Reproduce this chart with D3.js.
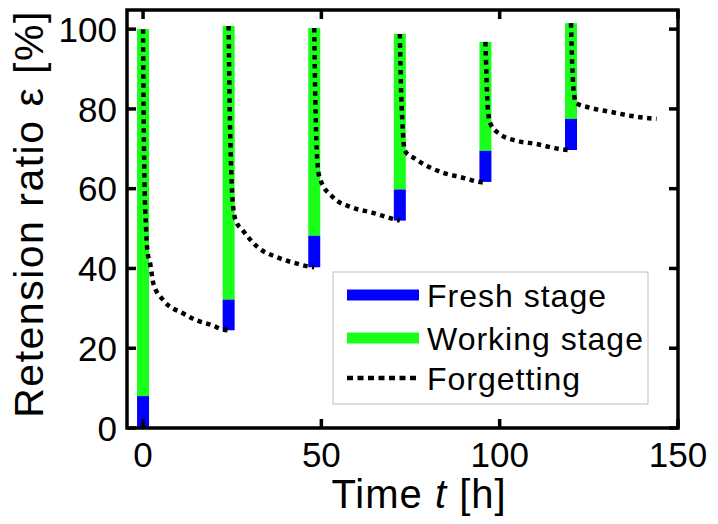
<!DOCTYPE html>
<html>
<head>
<meta charset="utf-8">
<script src="https://cdn.jsdelivr.net/npm/d3@7/dist/d3.min.js"></script>
<style>
  body { margin: 0; background: #fff; }
  text { font-family: "Liberation Sans", Arial, sans-serif; fill: #000; }
</style>
</head>
<body>
<script>
// review times [h] and the stage bars at each review
var reviewTimes = [0, 24, 48, 72, 96, 120];
var freshLow  = [0, 24.5, 40.3, 52, 61.7, 69.7];
var freshHigh = [8, 32.2, 48.2, 59.8, 69.5, 77.5];
var workHigh  = [100, 100.8, 100.3, 98.8, 96.8, 101.5];

// forgetting curve after each review, [t, ratio]
var forget1 = [[0,100],[0.2,75],[0.4,62],[0.85,50],[1.2,44.5],[2,41.2],[2.9,36.2],[5.7,32],[11.3,28.7],[15,27],[19.3,25.8],[22.4,24.7],[24,24.5]];
var forget2 = [[24,100.8],[24.3,80],[24.7,65],[25.2,56],[26,52],[28,49.5],[32.2,45.3],[37.6,42.8],[43.2,41.2],[46.3,40.5],[48,40.3]];
var forget3 = [[48,100.3],[48.3,82],[48.6,72],[49,65.5],[49.6,62.5],[53.3,57.8],[58.6,55.3],[64.2,54],[69.8,52.5],[72,52]];
var forget4 = [[72,98.8],[72.3,86],[72.7,77],[73.4,69.5],[76.3,67.5],[80.5,65.3],[84.1,64],[89.4,62.8],[95,61.6],[96,61.5]];
var forget5 = [[96,96.8],[96.3,88],[96.6,81],[97.3,76.5],[100,73.7],[104.8,72],[110.4,71.2],[116.3,70],[120,69.6]];
var forget6 = [[120,101.5],[120.3,92],[120.7,85],[121.4,81.5],[125.3,80.3],[130.9,79.3],[136.5,78.3],[144,77.5]];

var xTicks = [0, 50, 100, 150];
var yTicks = [0, 20, 40, 60, 80, 100];
var legendNames = ["Fresh stage", "Working stage", "Forgetting"];

var w = 718, h = 524;
var plotL = 127, plotR = 678, plotT = 10, plotB = 428;

var svg = d3.select("body").append("svg")
    .attr("width", w)
    .attr("height", h);

var x = d3.scaleLinear().domain([-4.5, 150]).range([plotL, plotR]);
var y = d3.scaleLinear().domain([0, 104.8]).range([plotB, plotT]);

var blue = "#0000ff", green = "#1aff1a";
var barW = 12;

var bars = reviewTimes.map(function(t, i){
    return { t: t, lo: freshLow[i], mid: freshHigh[i], hi: workHigh[i] };
});

// working stage (green) first, fresh stage (blue) below it
svg.selectAll(".work")
    .data(bars)
    .enter()
    .append("rect")
    .attr("class", "work")
    .attr("x", function(d){ return x(d.t) - barW / 2; })
    .attr("width", barW)
    .attr("y", function(d){ return y(d.hi); })
    .attr("height", function(d){ return y(d.mid) - y(d.hi); })
    .style("fill", green);

svg.selectAll(".fresh")
    .data(bars)
    .enter()
    .append("rect")
    .attr("class", "fresh")
    .attr("x", function(d){ return x(d.t) - barW / 2; })
    .attr("width", barW)
    .attr("y", function(d){ return y(d.mid); })
    .attr("height", function(d){ return y(d.lo) - y(d.mid); })
    .style("fill", blue);

// forgetting curves
var line = d3.line()
    .x(function(d){ return x(d[0]); })
    .y(function(d){ return y(d[1]); })
    .curve(d3.curveMonotoneX);

svg.selectAll(".forget")
    .data([forget1, forget2, forget3, forget4, forget5, forget6])
    .enter()
    .append("path")
    .attr("class", "forget")
    .attr("d", line)
    .style("fill", "none")
    .style("stroke", "#000")
    .style("stroke-width", 4.5)
    .style("stroke-dasharray", "4.5,4.5");

// axes box and inward ticks
var frame = svg.append("g");
var tickLen = 9;
frame.selectAll(".xtb").data(xTicks).enter().append("line")
    .attr("x1", function(d){ return x(d); }).attr("x2", function(d){ return x(d); })
    .attr("y1", plotB).attr("y2", plotB - tickLen);
frame.selectAll(".xtt").data(xTicks).enter().append("line")
    .attr("x1", function(d){ return x(d); }).attr("x2", function(d){ return x(d); })
    .attr("y1", plotT).attr("y2", plotT + tickLen);
frame.selectAll(".ytl").data(yTicks).enter().append("line")
    .attr("y1", function(d){ return y(d); }).attr("y2", function(d){ return y(d); })
    .attr("x1", plotL).attr("x2", plotL + tickLen);
frame.selectAll(".ytr").data(yTicks).enter().append("line")
    .attr("y1", function(d){ return y(d); }).attr("y2", function(d){ return y(d); })
    .attr("x1", plotR).attr("x2", plotR - tickLen);
frame.selectAll("line").style("stroke", "#000").style("stroke-width", 3.5);
frame.append("rect")
    .attr("x", plotL).attr("y", plotT)
    .attr("width", plotR - plotL).attr("height", plotB - plotT)
    .style("fill", "none").style("stroke", "#000").style("stroke-width", 3.5);

// tick labels
svg.selectAll(".xlab").data(xTicks).enter().append("text")
    .attr("x", function(d){ return x(d); })
    .attr("y", 467)
    .attr("text-anchor", "middle")
    .style("font-size", "35px")
    .text(function(d){ return d; });

svg.selectAll(".ylab").data(yTicks).enter().append("text")
    .attr("x", 117)
    .attr("y", function(d){ return y(d); })
    .attr("dy", "0.36em")
    .attr("text-anchor", "end")
    .style("font-size", "35px")
    .text(function(d){ return d; });

// axis titles
var xTitle = svg.append("text")
    .attr("x", 419).attr("y", 508)
    .attr("text-anchor", "middle")
    .style("font-size", "40px")
    .style("letter-spacing", "1px");
xTitle.append("tspan").text("Time ");
xTitle.append("tspan").style("font-style", "italic").text("t");
xTitle.append("tspan").text(" [h]");

svg.append("text")
    .attr("transform", "translate(43,214) rotate(-90)")
    .attr("text-anchor", "middle")
    .style("font-size", "41px")
    .style("letter-spacing", "1.5px")
    .text("Retension ratio ε [%]");

// legend
var lg = svg.append("g").attr("transform", "translate(333,272)");
lg.append("rect")
    .attr("width", 315).attr("height", 132)
    .style("fill", "#fff").style("stroke", "#c8c8c8").style("stroke-width", 1.2);
var rowY = [23, 66, 106];
legendNames.forEach(function(name, i){
    var s = lg.append("line")
        .attr("x1", 14).attr("x2", 86)
        .attr("y1", rowY[i]).attr("y2", rowY[i])
        .style("stroke", i === 0 ? blue : i === 1 ? green : "#000");
    if (i < 2) {
        s.style("stroke-width", 11);
    } else {
        s.style("stroke-width", 4.5).style("stroke-dasharray", "6,4.5");
    }
    lg.append("text")
        .attr("x", 94).attr("y", rowY[i])
        .attr("dy", "0.36em")
        .style("font-size", "32px")
        .style("letter-spacing", "1px")
        .text(name);
});
</script>
</body>
</html>
